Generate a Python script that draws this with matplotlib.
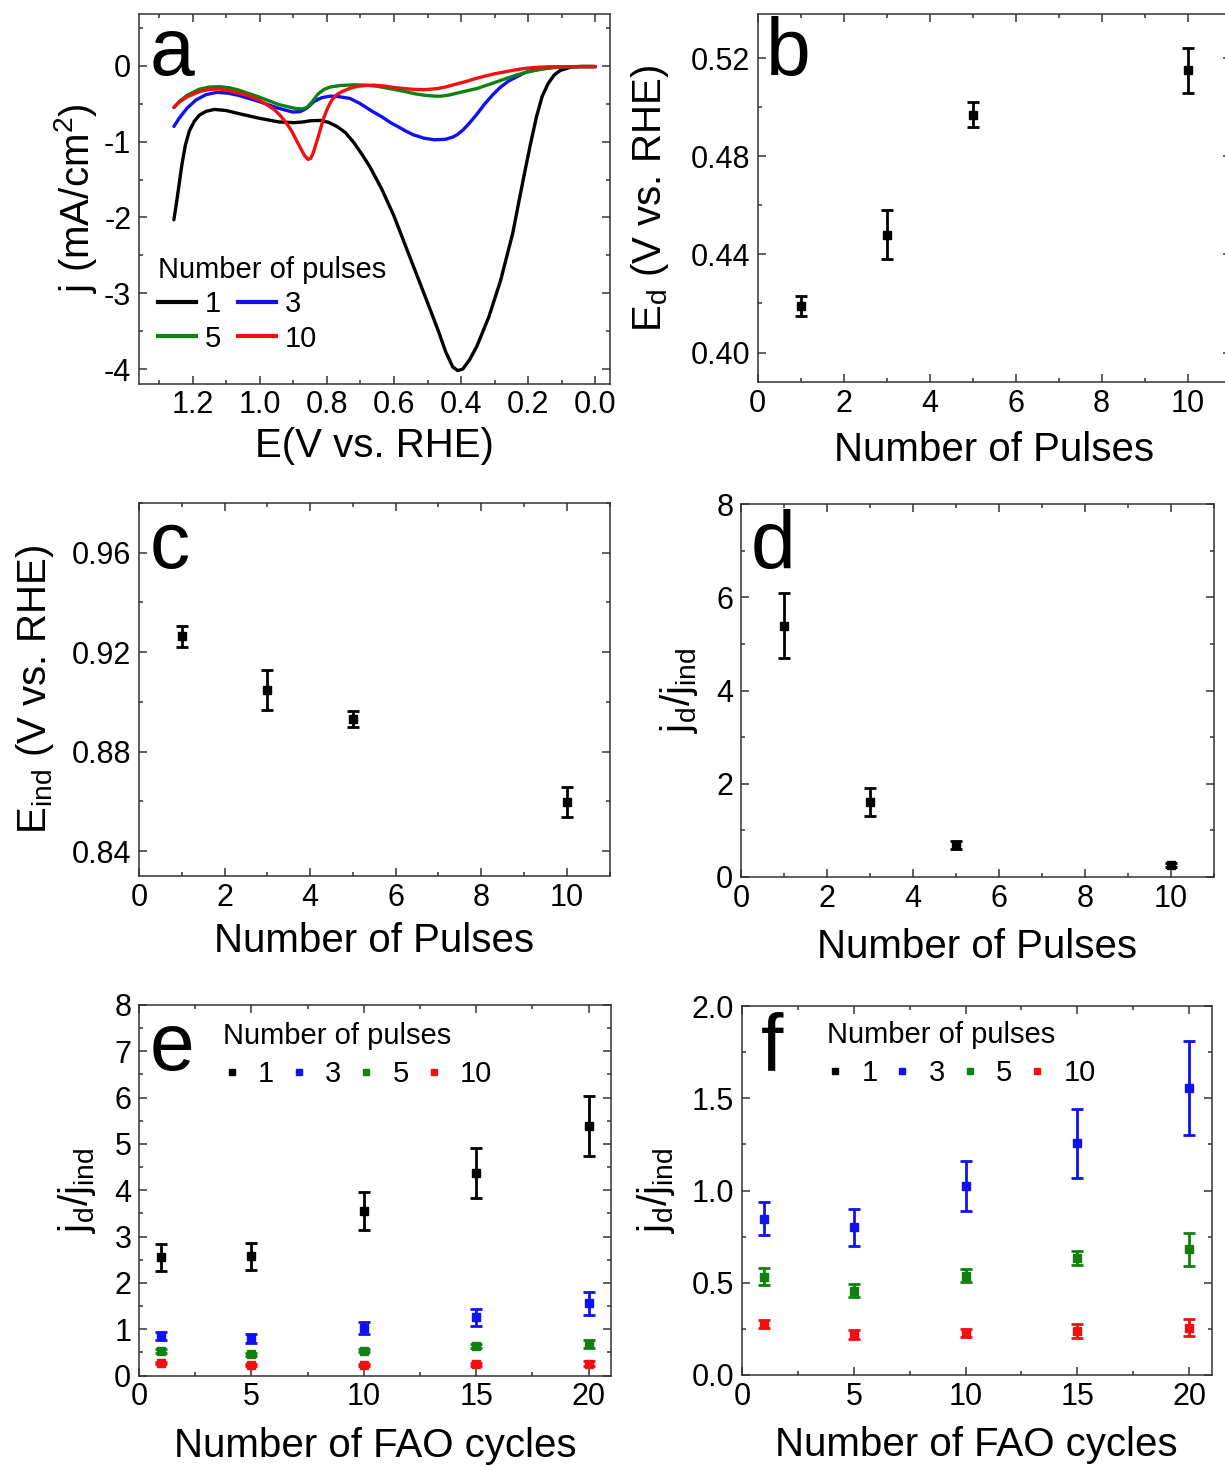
import matplotlib
matplotlib.use("Agg")
import matplotlib.pyplot as plt
from matplotlib.ticker import MultipleLocator, FormatStrFormatter
from matplotlib.lines import Line2D

plt.rcParams['font.family'] = ['Liberation Sans', 'DejaVu Sans']
plt.rcParams['axes.unicode_minus'] = False
plt.rcParams['mathtext.fontset'] = 'custom'
plt.rcParams['mathtext.rm'] = 'Liberation Sans'

# ---------------- data ----------------
# panel a: CV curves (E in V vs RHE, j in mA/cm2)
E_1p = [1.256, 1.248, 1.240, 1.232, 1.222, 1.210, 1.195, 1.180, 1.160, 1.135, 1.100, 1.063,
        1.003, 0.944, 0.897, 0.870, 0.850, 0.820, 0.795, 0.770, 0.745, 0.720, 0.695, 0.672,
        0.637, 0.601, 0.566, 0.530, 0.495, 0.470, 0.445, 0.425, 0.410, 0.395, 0.375, 0.353,
        0.317, 0.282, 0.260, 0.246, 0.228, 0.211, 0.193, 0.175, 0.158, 0.140, 0.122, 0.104,
        0.070, 0.040, 0.000]
j_1p = [-2.03, -1.80, -1.55, -1.30, -1.05, -0.86, -0.73, -0.65, -0.60, -0.575, -0.59, -0.63,
        -0.69, -0.74, -0.75, -0.74, -0.725, -0.72, -0.745, -0.80, -0.88, -1.01, -1.17, -1.33,
        -1.62, -1.97, -2.37, -2.78, -3.18, -3.47, -3.78, -3.97, -4.02, -4.00, -3.88, -3.70,
        -3.31, -2.83, -2.45, -2.21, -1.80, -1.42, -1.03, -0.67, -0.40, -0.23, -0.12, -0.06,
        -0.015, -0.008, -0.01]

E_3p = [1.256, 1.240, 1.217, 1.190, 1.160, 1.128, 1.095, 1.063, 1.003, 0.944, 0.902, 0.880,
        0.860, 0.838, 0.815, 0.790, 0.767, 0.731, 0.700, 0.665, 0.637, 0.610, 0.589, 0.565,
        0.542, 0.510, 0.480, 0.447, 0.425, 0.412, 0.395, 0.376, 0.355, 0.329, 0.305, 0.282,
        0.258, 0.234, 0.210, 0.187, 0.140, 0.092, 0.000]
j_3p = [-0.80, -0.69, -0.56, -0.45, -0.38, -0.35, -0.36, -0.39, -0.47, -0.56, -0.61, -0.605,
        -0.56, -0.47, -0.42, -0.40, -0.405, -0.43, -0.50, -0.60, -0.67, -0.75, -0.80, -0.86,
        -0.91, -0.955, -0.975, -0.97, -0.94, -0.91, -0.85, -0.76, -0.65, -0.50, -0.38, -0.28,
        -0.20, -0.145, -0.09, -0.06, -0.025, -0.012, -0.01]

E_5p = [1.256, 1.240, 1.217, 1.181, 1.150, 1.120, 1.090, 1.063, 1.003, 0.944, 0.897, 0.875,
        0.860, 0.845, 0.826, 0.808, 0.790, 0.760, 0.720, 0.684, 0.650, 0.625, 0.595, 0.566,
        0.536, 0.506, 0.475, 0.459, 0.435, 0.412, 0.383, 0.353, 0.323, 0.293, 0.264, 0.234,
        0.205, 0.175, 0.145, 0.116, 0.060, 0.000]
j_5p = [-0.55, -0.47, -0.39, -0.31, -0.28, -0.275, -0.29, -0.32, -0.41, -0.51, -0.56, -0.57,
        -0.55, -0.48, -0.37, -0.31, -0.28, -0.26, -0.25, -0.255, -0.27, -0.29, -0.315, -0.34,
        -0.37, -0.39, -0.40, -0.40, -0.385, -0.36, -0.33, -0.30, -0.255, -0.21, -0.165, -0.12,
        -0.085, -0.057, -0.035, -0.02, -0.01, -0.01]

E_10p = [1.256, 1.240, 1.217, 1.180, 1.150, 1.120, 1.090, 1.063, 1.030, 1.003, 0.980, 0.956,
         0.938, 0.920, 0.905, 0.891, 0.878, 0.867, 0.856, 0.848, 0.840, 0.833, 0.826, 0.817,
         0.808, 0.797, 0.785, 0.770, 0.755, 0.730, 0.708, 0.680, 0.660, 0.630, 0.601, 0.570,
         0.542, 0.510, 0.495, 0.470, 0.447, 0.418, 0.388, 0.358, 0.329, 0.300, 0.270, 0.240,
         0.211, 0.175, 0.140, 0.000]
j_10p = [-0.55, -0.48, -0.41, -0.34, -0.31, -0.305, -0.33, -0.36, -0.40, -0.45, -0.51, -0.58,
         -0.66, -0.76, -0.86, -0.98, -1.09, -1.18, -1.235, -1.22, -1.14, -1.04, -0.94, -0.80,
         -0.67, -0.55, -0.45, -0.38, -0.34, -0.295, -0.27, -0.258, -0.255, -0.265, -0.285, -0.30,
         -0.31, -0.315, -0.31, -0.30, -0.28, -0.245, -0.21, -0.17, -0.136, -0.105, -0.08, -0.055,
         -0.035, -0.02, -0.013, -0.01]

pulse_labels = ['1', '3', '5', '10']

# panels b, c, d: vs number of pulses
pulses = [1, 3, 5, 10]
E_d = [0.419, 0.448, 0.497, 0.515]
E_d_err = [0.004, 0.010, 0.005, 0.009]
E_ind = [0.9264, 0.9049, 0.8931, 0.8599]
E_ind_err = [0.0043, 0.008, 0.0033, 0.006]
ratio_pulses = [5.39, 1.60, 0.68, 0.257]
ratio_pulses_err = [0.70, 0.30, 0.09, 0.047]

# panels e, f: vs number of FAO cycles
cycles = [1, 5, 10, 15, 20]
ratio_1p = [2.55, 2.57, 3.55, 4.37, 5.39]
ratio_1p_err = [0.30, 0.30, 0.41, 0.54, 0.65]
ratio_3p = [0.847, 0.800, 1.024, 1.256, 1.557]
ratio_3p_err = [0.088, 0.100, 0.137, 0.186, 0.255]
ratio_5p = [0.533, 0.457, 0.538, 0.636, 0.681]
ratio_5p_err = [0.047, 0.035, 0.035, 0.038, 0.090]
ratio_10p = [0.276, 0.220, 0.229, 0.240, 0.257]
ratio_10p_err = [0.022, 0.024, 0.022, 0.037, 0.047]

colors = ['#000000', '#1010F0', '#108010', '#F01010']

# ---------------- layout ----------------
W, H = 1225, 1467
fig = plt.figure(figsize=(W / 100, H / 100), dpi=100)


def add_ax(left, right, top, bottom):
    return fig.add_axes([left / W, 1 - bottom / H, (right - left) / W, (bottom - top) / H])


TICK_FS = 22
LABEL_FS = 29
LEG_FS = 21
LETTER_FS = 58


def style(ax, xmaj, xmin, ymaj, ymin):
    ax.xaxis.set_major_locator(MultipleLocator(xmaj))
    ax.xaxis.set_minor_locator(MultipleLocator(xmin))
    ax.yaxis.set_major_locator(MultipleLocator(ymaj))
    ax.yaxis.set_minor_locator(MultipleLocator(ymin))
    ax.tick_params(which='both', direction='in', top=True, right=True,
                   colors='#333333', labelcolor='black', width=1.1)
    ax.tick_params(which='major', length=5.5)
    ax.tick_params(which='minor', length=3)
    ax.tick_params(axis='x', labelsize=TICK_FS, pad=5)
    ax.tick_params(axis='y', labelsize=TICK_FS, pad=5.5)
    for s in ax.spines.values():
        s.set_linewidth(1.1)
        s.set_color('#333333')


def letter(ax, s, x, y):
    ax.text(x, y, s, transform=ax.transAxes, fontsize=LETTER_FS, ha='left', va='baseline')


def labels(ax, xl, yl, xly, ylx):
    ax.set_xlabel(xl, fontsize=LABEL_FS)
    ax.set_ylabel(yl, fontsize=LABEL_FS)
    ax.xaxis.set_label_coords(0.5, xly)
    ax.yaxis.set_label_coords(ylx, 0.5)


eb_kw = dict(fmt='s', ms=6, elinewidth=2, capsize=4, capthick=2, linestyle='none')

# ---- panel a ----
ax = add_ax(139, 610, 13.5, 383.5)
curves = [(E_1p, j_1p), (E_3p, j_3p), (E_5p, j_5p), (E_10p, j_10p)]
lines = []
for (E, j), c in zip(curves, colors):
    ln, = ax.plot(E, j, color=c, lw=2.4, solid_joinstyle='round', solid_capstyle='round')
    lines.append(ln)
ax.set_xlim(1.36, -0.044)
ax.set_ylim(-4.19, 0.69)
style(ax, 0.2, 0.1, 1, 0.5)
ax.xaxis.set_major_formatter(FormatStrFormatter('%.1f'))
labels(ax, 'E(V vs. RHE)', 'j (mA/cm$^\\mathregular{2}$)', -0.118, -0.085)
letter(ax, 'a', 0.023, 0.834)
order = [0, 2, 1, 3]
leg_handles = [Line2D([], [], color=c, lw=3) for c in colors]
ax.legend([leg_handles[i] for i in order], [pulse_labels[i] for i in order], ncol=2,
          title='Number of pulses', alignment='left', frameon=False,
          fontsize=LEG_FS, title_fontsize=LEG_FS, handlelength=1.3, handletextpad=0.3,
          columnspacing=0.6, labelspacing=0.22, borderpad=0, borderaxespad=0,
          loc='upper left', bbox_to_anchor=(0.040, 0.345))

# ---- panel b ----
ax = add_ax(757.7, 1230.5, 14, 382)
ax.errorbar(pulses, E_d, yerr=E_d_err, color='black', **eb_kw)
ax.set_xlim(0, 11)
ax.set_ylim(0.388, 0.538)
style(ax, 2, 1, 0.04, 0.02)
ax.yaxis.set_major_formatter(FormatStrFormatter('%.2f'))
labels(ax, 'Number of Pulses', 'E$_\\mathregular{d}$ (V vs. RHE)', -0.133, -0.183)
letter(ax, 'b', 0.018, 0.834)

# ---- panel c ----
ax = add_ax(139, 609.5, 503, 876)
ax.errorbar(pulses, E_ind, yerr=E_ind_err, color='black', **eb_kw)
ax.set_xlim(0, 11)
ax.set_ylim(0.83, 0.98)
style(ax, 2, 1, 0.04, 0.02)
ax.yaxis.set_major_formatter(FormatStrFormatter('%.2f'))
labels(ax, 'Number of Pulses', 'E$_\\mathregular{ind}$ (V vs. RHE)', -0.122, -0.176)
letter(ax, 'c', 0.023, 0.826)

# ---- panel d ----
ax = add_ax(741, 1213.5, 504, 877)
ax.errorbar(pulses, ratio_pulses, yerr=ratio_pulses_err, color='black', **eb_kw)
ax.set_xlim(0, 11)
ax.set_ylim(0, 8)
style(ax, 2, 1, 2, 1)
labels(ax, 'Number of Pulses', 'j$_\\mathregular{d}$/j$_\\mathregular{ind}$', -0.138, -0.087)
letter(ax, 'd', 0.021, 0.828)

# ---- panels e, f ----
series = [(ratio_1p, ratio_1p_err), (ratio_3p, ratio_3p_err),
          (ratio_5p, ratio_5p_err), (ratio_10p, ratio_10p_err)]


def fao_panel(ax, ylim, ymaj, ymin, leg_xy):
    for (v, e), c in zip(series, colors):
        ax.errorbar(cycles, v, yerr=e, color=c, **eb_kw)
    ax.set_xlim(0, 21)
    ax.set_ylim(*ylim)
    style(ax, 5, 2.5, ymaj, ymin)
    handles = [Line2D([], [], marker='s', ms=5, color=c, linestyle='none') for c in colors]
    ax.legend(handles, pulse_labels, ncol=4, title='Number of pulses', alignment='left',
              frameon=False, fontsize=LEG_FS, title_fontsize=LEG_FS, handlelength=0.6,
              handletextpad=0.6, columnspacing=0.55, labelspacing=0.35, borderpad=0,
              borderaxespad=0, loc='upper left', bbox_to_anchor=leg_xy)


ax = add_ax(139, 611, 1005, 1375.5)
fao_panel(ax, (0, 8), 1, 0.5, (0.178, 0.955))
labels(ax, 'Number of FAO cycles', 'j$_\\mathregular{d}$/j$_\\mathregular{ind}$', -0.14, -0.087)
letter(ax, 'e', 0.023, 0.825)

ax = add_ax(742, 1211.5, 1006, 1375)
fao_panel(ax, (0, 2), 0.5, 0.25, (0.18, 0.96))
ax.yaxis.set_major_formatter(FormatStrFormatter('%.1f'))
labels(ax, 'Number of FAO cycles', 'j$_\\mathregular{d}$/j$_\\mathregular{ind}$', -0.138, -0.138)
letter(ax, 'f', 0.04, 0.827)

fig.savefig('out.png', dpi=100)
